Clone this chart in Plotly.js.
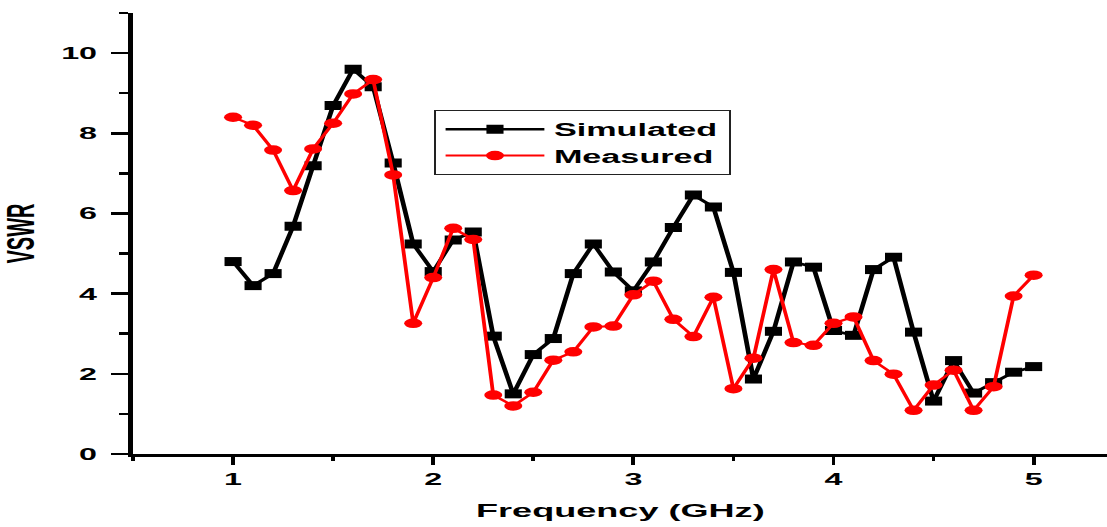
<!DOCTYPE html>
<html>
<head>
<meta charset="utf-8">
<script src="https://cdn.plot.ly/plotly-3.0.1.min.js"></script>
<style>
  html, body { margin: 0; padding: 0; background: #fff; overflow: hidden; }
  #wrap { width: 1107px; height: 527px; overflow: hidden; position: relative; }
  #chart { width: 583px; height: 527px; transform: scaleX(1.9); transform-origin: 0 0; }
</style>
</head>
<body>
<div id="wrap"><div id="chart"></div></div>
<script>
const frequency = [1.0,1.1,1.2,1.3,1.4,1.5,1.6,1.7,1.8,1.9,2.0,2.1,2.2,2.3,2.4,2.5,2.6,2.7,2.8,2.9,3.0,3.1,3.2,3.3,3.4,3.5,3.6,3.7,3.8,3.9,4.0,4.1,4.2,4.3,4.4,4.5,4.6,4.7,4.8,4.9,5.0];
const simulated = [4.8,4.2,4.5,5.68,7.19,8.69,9.6,9.16,7.26,5.24,4.55,5.34,5.54,2.94,1.5,2.48,2.88,4.5,5.24,4.54,4.07,4.79,5.65,6.46,6.16,4.53,1.87,3.06,4.79,4.66,3.08,2.96,4.6,4.91,3.04,1.32,2.33,1.52,1.78,2.04,2.18];
const measured = [8.4,8.2,7.58,6.57,7.61,8.25,8.98,9.34,6.96,3.26,4.4,5.63,5.35,1.47,1.2,1.54,2.34,2.55,3.17,3.19,3.97,4.31,3.36,2.93,3.91,1.63,2.39,4.6,2.78,2.71,3.26,3.42,2.33,1.99,1.09,1.72,2.09,1.09,1.68,3.94,4.46];
const seriesNames = ["Simulated", "Measured"];
const xTitle = "Frequency (GHz)";
const yTitle = "VSWR";

const fontFam = '"Liberation Sans", Arial, sans-serif';

const traces = [
  {
    x: frequency, y: simulated, name: seriesNames[0],
    type: 'scatter', mode: 'lines+markers',
    line: {color: '#000000', width: 2.5},
    marker: {symbol: 'square', size: 9, color: '#000000'}
  },
  {
    x: frequency, y: measured, name: seriesNames[1],
    type: 'scatter', mode: 'lines+markers',
    line: {color: '#ff0000', width: 2},
    marker: {symbol: 'circle', size: 9.5, color: '#ff0000'}
  }
];

const layout = {
  width: 583, height: 527,
  margin: {l: 70, r: 0, t: 13, b: 73},
  paper_bgcolor: '#ffffff', plot_bgcolor: '#ffffff',
  font: {family: fontFam, color: '#000000', weight: 'bold'},
  showlegend: true,
  legend: {
    x: 0.309, y: 0.78, xanchor: 'left', yanchor: 'top',
    bgcolor: '#ffffff', bordercolor: '#222222', borderwidth: 1,
    font: {family: fontFam, size: 18, color: '#000000', weight: 'bold'},
    itemwidth: 52, tracegroupgap: 0
  },
  xaxis: {
    range: [0.5, 5.37], tick0: 0, dtick: 1,
    showgrid: false, zeroline: false,
    showline: true, linecolor: '#000000', linewidth: 2.5,
    ticks: 'outside', ticklen: 8, tickwidth: 2, tickcolor: '#000000',
    minor: {dtick: 0.5, tick0: 0, ticks: 'outside', ticklen: 4, tickwidth: 2, tickcolor: '#000000', showgrid: false},
    tickfont: {family: fontFam, size: 17, color: '#000000', weight: 'bold'},
    ticklabelstandoff: 0,
    title: {text: xTitle, font: {family: fontFam, size: 19, color: '#000000', weight: 'bold'}, standoff: 16}
  },
  yaxis: {
    range: [0, 11], tick0: 0, dtick: 2,
    showgrid: false, zeroline: false,
    showline: true, linecolor: '#000000', linewidth: 2.5,
    ticks: 'outside', ticklen: 9, tickwidth: 2.5, tickcolor: '#000000',
    minor: {dtick: 1, tick0: 0, ticks: 'outside', ticklen: 5, tickwidth: 2.5, tickcolor: '#000000', showgrid: false},
    tickfont: {family: fontFam, size: 17, color: '#000000', weight: 'bold'},
    ticklabelstandoff: 4,
    title: {text: yTitle, font: {family: fontFam, size: 20, color: '#000000', weight: 'bold'}, standoff: 14}
  }
};

Plotly.newPlot('chart', traces, layout, {staticPlot: true, displayModeBar: false, responsive: false});
</script>
</body>
</html>
